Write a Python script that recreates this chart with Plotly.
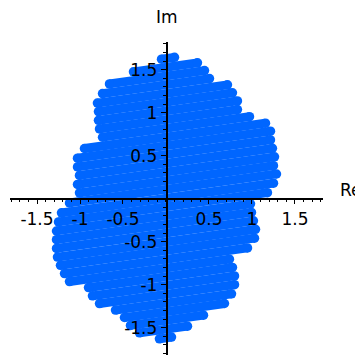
import plotly.graph_objects as go

# rows of the point cloud: y = offset + slope * x, from left end to right end
row_slope = 0.14
row_offset = [1.630 - 0.1015 * k for k in range(33)]
row_left = [-0.052, -0.378, -0.657, -0.738, -0.797, -0.785, -0.785, -0.773, -0.738, -0.948,
            -1.029, -1.029, -1.006, -1.029, -1.006, -1.122, -1.215, -1.250, -1.273, -1.273,
            -1.273, -1.262, -1.227, -1.180, -1.122, -0.901, -0.855, -0.773, -0.587, -0.483,
            -0.413, -0.308, -0.076]
row_right = [0.099, 0.366, 0.448, 0.506, 0.715, 0.773, 0.831, 0.831, 0.971, 1.157,
             1.215, 1.215, 1.238, 1.262, 1.250, 1.285, 1.250, 1.180, 0.983, 0.994,
             1.017, 1.041, 1.029, 0.948, 0.738, 0.773, 0.797, 0.797, 0.762, 0.680,
             0.436, 0.250, 0.064]

tick_vals = [-1.5, -1, -0.5, 0.5, 1, 1.5]
tick_text = ["-1.5", "-1", "-0.5", "0.5", "1", "1.5"]

blue = "#0066ff"

xs, ys = [], []
for b, xl, xr in zip(row_offset, row_left, row_right):
    xs += [xl, xr, None]
    ys += [b + row_slope * xl, b + row_slope * xr, None]

fig = go.Figure()
fig.add_trace(go.Scatter(
    x=xs, y=ys,
    mode="lines+markers",
    line=dict(color=blue, width=8.85),
    marker=dict(color=blue, size=9.5, line=dict(width=0)),
    hoverinfo="skip",
    showlegend=False,
))

axis_font = dict(family="DejaVu Sans", size=17, color="black")

# page body has an 8px margin, so the figure is 355 wide/high
fig.update_layout(
    width=355, height=355,
    margin=dict(l=2, r=40, t=34, b=8),
    paper_bgcolor="white",
    plot_bgcolor="white",
    showlegend=False,
    xaxis=dict(
        range=[-1.814, 1.826],
        anchor="free", position=0.4993, automargin=False,
        showgrid=False, zeroline=False,
        showline=True, linecolor="black", linewidth=1.5,
        ticks="outside", ticklen=5, tickwidth=1.2, tickcolor="black",
        tickvals=tick_vals, ticktext=tick_text,
        tickfont=axis_font,
        minor=dict(ticks="outside", ticklen=3, tickwidth=1, tickcolor="black", dtick=0.1, tick0=0, showgrid=False),
    ),
    yaxis=dict(
        range=[-1.817, 1.822],
        anchor="free", position=0.5, automargin=False,
        showgrid=False, zeroline=False,
        showline=True, linecolor="black", linewidth=1.5,
        ticks="outside", ticklen=5, tickwidth=1.2, tickcolor="black",
        tickvals=tick_vals, ticktext=tick_text,
        tickfont=axis_font,
        minor=dict(ticks="outside", ticklen=3, tickwidth=1, tickcolor="black", dtick=0.1, tick0=0, showgrid=False),
    ),
    annotations=[
        dict(text="Im", xref="paper", yref="paper", x=0.5, y=1.08,
             showarrow=False, font=axis_font, xanchor="center", yanchor="middle"),
        dict(text="Re", xref="paper", yref="paper", x=1.048, y=0.527,
             showarrow=False, font=axis_font, xanchor="left", yanchor="middle"),
    ],
)

fig.write_html("out.html")
